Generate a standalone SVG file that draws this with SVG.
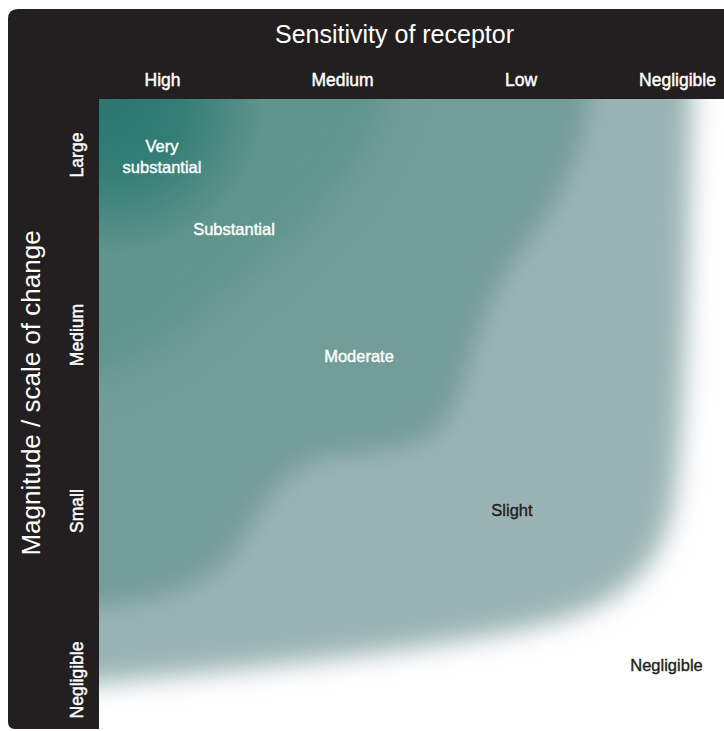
<svg xmlns="http://www.w3.org/2000/svg" width="724" height="731" viewBox="0 0 724 731">
  <defs>
    <style>
      .hdr { font-family: "Liberation Sans", Arial, sans-serif; font-weight: normal; font-size: 17.5px; fill: #ffffff; stroke: #ffffff; stroke-width: 0.45px; text-anchor: middle; }
      .title { font-family: "Liberation Sans", Arial, sans-serif; font-weight: normal; font-size: 25px; fill: #ffffff; text-anchor: middle; }
      .cell { font-family: "Liberation Sans", Arial, sans-serif; font-weight: normal; font-size: 16.5px; stroke-width: 0.4px; text-anchor: middle; }
      .light { fill: #ffffff; stroke: #ffffff; }
      .dark { fill: #231f20; stroke: #231f20; }
    </style>
    <filter id="blurS" filterUnits="userSpaceOnUse" x="-50" y="-50" width="824" height="831">
      <feGaussianBlur stdDeviation="13"/>
    </filter>
    <filter id="blurM" filterUnits="userSpaceOnUse" x="-50" y="-50" width="824" height="831">
      <feGaussianBlur stdDeviation="12"/>
    </filter>
    <filter id="blurL" filterUnits="userSpaceOnUse" x="-50" y="-50" width="824" height="831">
      <feGaussianBlur stdDeviation="18"/>
    </filter>
    <radialGradient id="vsGrad" gradientUnits="userSpaceOnUse" cx="115" cy="105" r="150">
      <stop offset="0" stop-color="#2a7870" stop-opacity="1"/>
      <stop offset="0.45" stop-color="#2c7a72" stop-opacity="0.85"/>
      <stop offset="1" stop-color="#2c7a72" stop-opacity="0"/>
    </radialGradient>
  </defs>

  <rect x="0" y="0" width="724" height="731" fill="#ffffff"/>

  <g id="regions">
    <path id="region-slight" filter="url(#blurS)" fill="#9ab4b3"
          d="M 60 60 L 694 60 L 692 99 C 688 250, 686 420, 674 500 C 662 570, 622 605, 542 625 C 442 648, 282 666, 99 683 L 60 685 Z"/>
    <path id="region-moderate" filter="url(#blurM)" fill="#739d99"
          d="M 60 60 L 592 60 C 592 140, 562 200, 522 250 C 482 300, 472 360, 457 400 C 442 440, 412 450, 342 455 C 292 460, 272 490, 242 540 C 212 590, 152 605, 60 610 Z"/>
    <path id="region-substantial" filter="url(#blurL)" fill="#5e948d"
          d="M 60 60 L 392 60 C 387 160, 302 230, 242 280 C 192 320, 152 372, 60 382 Z"/>
    <rect id="region-very-substantial" x="60" y="60" width="320" height="320" fill="url(#vsGrad)"/>
  </g>

  <g id="frame">
    <path fill="#231f20" d="M 18 9 L 724 9 L 724 99 L 99 99 L 99 729 L 15 729 Q 8 729 8 722 L 8 19 Q 8 9 18 9 Z"/>
  </g>

  <g id="column-axis">
    <text class="title" x="394.5" y="43">Sensitivity of receptor</text>
    <text class="hdr" x="162.5" y="86">High</text>
    <text class="hdr" x="342.5" y="86">Medium</text>
    <text class="hdr" x="521" y="86">Low</text>
    <text class="hdr" x="677.5" y="86">Negligible</text>
  </g>

  <g id="row-axis">
    <text class="title" transform="translate(40,393) rotate(-90)" style="font-size:26px">Magnitude / scale of change</text>
    <text class="hdr" transform="translate(82.5,155) rotate(-90)">Large</text>
    <text class="hdr" transform="translate(82.5,335) rotate(-90)">Medium</text>
    <text class="hdr" transform="translate(82.5,511) rotate(-90)">Small</text>
    <text class="hdr" transform="translate(82.5,680) rotate(-90)">Negligible</text>
  </g>

  <g id="cell-very-substantial">
    <text class="cell light" x="162" y="152">Very</text>
    <text class="cell light" x="162" y="173">substantial</text>
  </g>
  <g id="cell-substantial">
    <text class="cell light" x="234" y="235">Substantial</text>
  </g>
  <g id="cell-moderate">
    <text class="cell light" x="359" y="362">Moderate</text>
  </g>
  <g id="cell-slight">
    <text class="cell dark" x="512" y="516">Slight</text>
  </g>
  <g id="cell-negligible">
    <text class="cell dark" x="666.5" y="671">Negligible</text>
  </g>
</svg>
